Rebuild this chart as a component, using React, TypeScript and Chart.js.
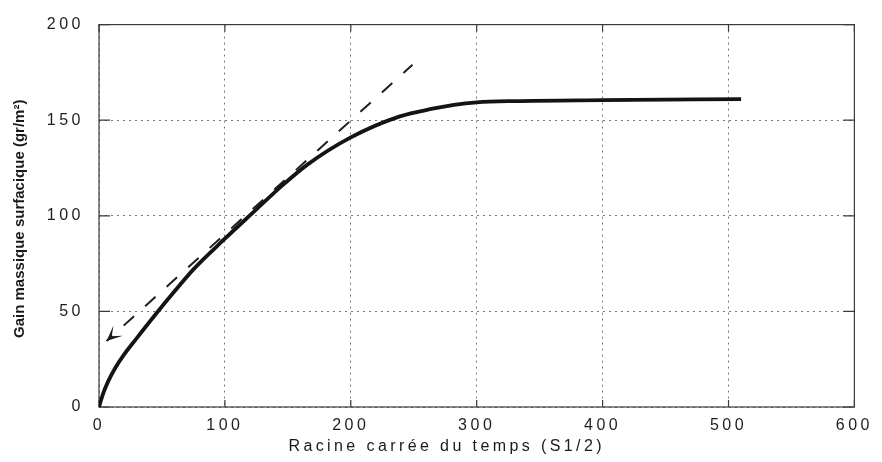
import React, { useEffect, useRef } from 'react';
import { Chart, registerables } from 'chart.js';

Chart.register(...registerables);

// Mass gain curve (solid)
const curveX = [0, 3, 7, 13, 20, 30, 45, 60, 75, 100, 122, 145, 165, 200, 239, 265, 282, 300, 330, 400, 510];
const curveY = [0, 6.5, 13, 20.5, 27.5, 36, 48.5, 60.5, 72, 88, 101.5, 115.5, 126.5, 141, 152, 156, 158, 159.3, 160, 160.5, 161];

// Tangent (dashed, arrow at first point)
const tangentX = [6, 249];
const tangentY = [34.5, 179];

// Axes
const xTickValues = [0, 100, 200, 300, 400, 500, 600];
const yTickValues = [0, 50, 100, 150, 200];
const xTitle = 'Racine carrée du temps (S1/2)';
const yTitle = 'Gain massique surfacique (gr/m²)';

const FONT = "'Liberation Sans', Arial, Helvetica, sans-serif";

export default function App() {
  const ref = useRef<HTMLCanvasElement | null>(null);

  useEffect(() => {
    const canvas = ref.current;
    if (!canvas) return;

    const spacing = {
      id: 'spacing',
      beforeUpdate(chart: any) { chart.ctx.letterSpacing = '3.5px'; },
      beforeLayout(chart: any) { chart.ctx.letterSpacing = '3.5px'; },
      beforeDraw(chart: any) { chart.ctx.letterSpacing = '3.5px'; },
    };

    const frame = {
      id: 'frame',
      beforeDatasetsDraw(chart: any) {
        const { ctx, chartArea: a, scales } = chart;
        ctx.save();
        ctx.setLineDash([]);
        ctx.strokeStyle = '#3a3a3a';
        ctx.lineWidth = 1.2;
        ctx.strokeRect(a.left, a.top, a.right - a.left, a.bottom - a.top);
        ctx.beginPath();
        for (const v of xTickValues) {
          const px = scales.x.getPixelForValue(v);
          ctx.moveTo(px, a.bottom); ctx.lineTo(px, a.bottom - 7);
          ctx.moveTo(px, a.top); ctx.lineTo(px, a.top + 7);
        }
        for (const v of yTickValues) {
          const py = scales.y.getPixelForValue(v);
          ctx.moveTo(a.left, py); ctx.lineTo(a.left + 11, py);
          ctx.moveTo(a.right, py); ctx.lineTo(a.right - 11, py);
        }
        ctx.stroke();
        ctx.restore();
      },
      afterDatasetsDraw(chart: any) {
        const meta = chart.getDatasetMeta(1);
        const p0 = meta.data[0];
        const p1 = meta.data[1];
        if (!p0 || !p1) return;
        const ang = Math.atan2(p0.y - p1.y, p0.x - p1.x);
        const { ctx } = chart;
        const len = 17, half = 0.42, notch = 7;
        ctx.save();
        ctx.fillStyle = '#1a1a1a';
        ctx.beginPath();
        ctx.moveTo(p0.x, p0.y);
        ctx.lineTo(p0.x - len * Math.cos(ang - half), p0.y - len * Math.sin(ang - half));
        ctx.lineTo(p0.x - notch * Math.cos(ang), p0.y - notch * Math.sin(ang));
        ctx.lineTo(p0.x - len * Math.cos(ang + half), p0.y - len * Math.sin(ang + half));
        ctx.closePath();
        ctx.fill();
        ctx.restore();
      },
      afterDraw(chart: any) {
        const { ctx, chartArea: a } = chart;
        ctx.save();
        ctx.letterSpacing = '0px';
        ctx.fillStyle = '#1a1a1a';
        ctx.font = `bold 15px ${FONT}`;
        ctx.textAlign = 'center';
        ctx.textBaseline = 'middle';
        ctx.translate(20, (a.top + a.bottom) / 2 + 3);
        ctx.rotate(-Math.PI / 2);
        ctx.fillText(yTitle, 0, 0);
        ctx.restore();

        ctx.save();
        ctx.letterSpacing = '3.4px';
        ctx.fillStyle = '#1a1a1a';
        ctx.font = `16px ${FONT}`;
        ctx.textAlign = 'center';
        ctx.textBaseline = 'middle';
        ctx.fillText(xTitle, (a.left + a.right) / 2 - 30, 447);
        ctx.restore();
      },
    };

    const tickFont = { family: FONT, size: 16 };

    const chart = new Chart(canvas, {
      type: 'line',
      data: {
        datasets: [
          {
            data: curveX.map((x, i) => ({ x, y: curveY[i] })),
            borderColor: '#141414',
            borderWidth: 3.8,
            pointRadius: 0,
            fill: false,
            cubicInterpolationMode: 'monotone',
          },
          {
            data: tangentX.map((x, i) => ({ x, y: tangentY[i] })),
            borderColor: '#1e1e1e',
            borderWidth: 2,
            borderDash: [14, 15],
            borderDashOffset: 6,
            pointRadius: 0,
            fill: false,
          },
        ],
      },
      options: {
        animation: false,
        responsive: false,
        maintainAspectRatio: false,
        events: [],
        layout: { padding: { top: 17, right: 22, left: 0, bottom: 0 } },
        plugins: { legend: { display: false }, tooltip: { enabled: false } },
        scales: {
          x: {
            type: 'linear',
            min: 0,
            max: 600,
            ticks: {
              stepSize: 100,
              color: '#1e1e1e',
              font: tickFont,
              padding: 9,
              callback: (v: any) => String(v),
            },
            grid: { color: '#767676', lineWidth: 1, drawTicks: false },
            border: { display: false, dash: [2, 4] },
            afterFit: (s: any) => { s.height = 55; },
          },
          y: {
            type: 'linear',
            min: 0,
            max: 200,
            ticks: {
              stepSize: 50,
              color: '#1e1e1e',
              font: tickFont,
              padding: 15,
              callback: (v: any) => String(v),
            },
            grid: { color: '#767676', lineWidth: 1, drawTicks: false },
            border: { display: false, dash: [2, 4] },
            afterFit: (s: any) => { s.width = 99; },
          },
        },
      },
      plugins: [spacing, frame],
    } as any);

    return () => chart.destroy();
  }, []);

  return (
    <div style={{ position: 'absolute', left: 0, top: 0, width: 882, height: 462, background: '#fff' }}>
      <canvas ref={ref} width={882} height={462} style={{ display: 'block' }} />
    </div>
  );
}
